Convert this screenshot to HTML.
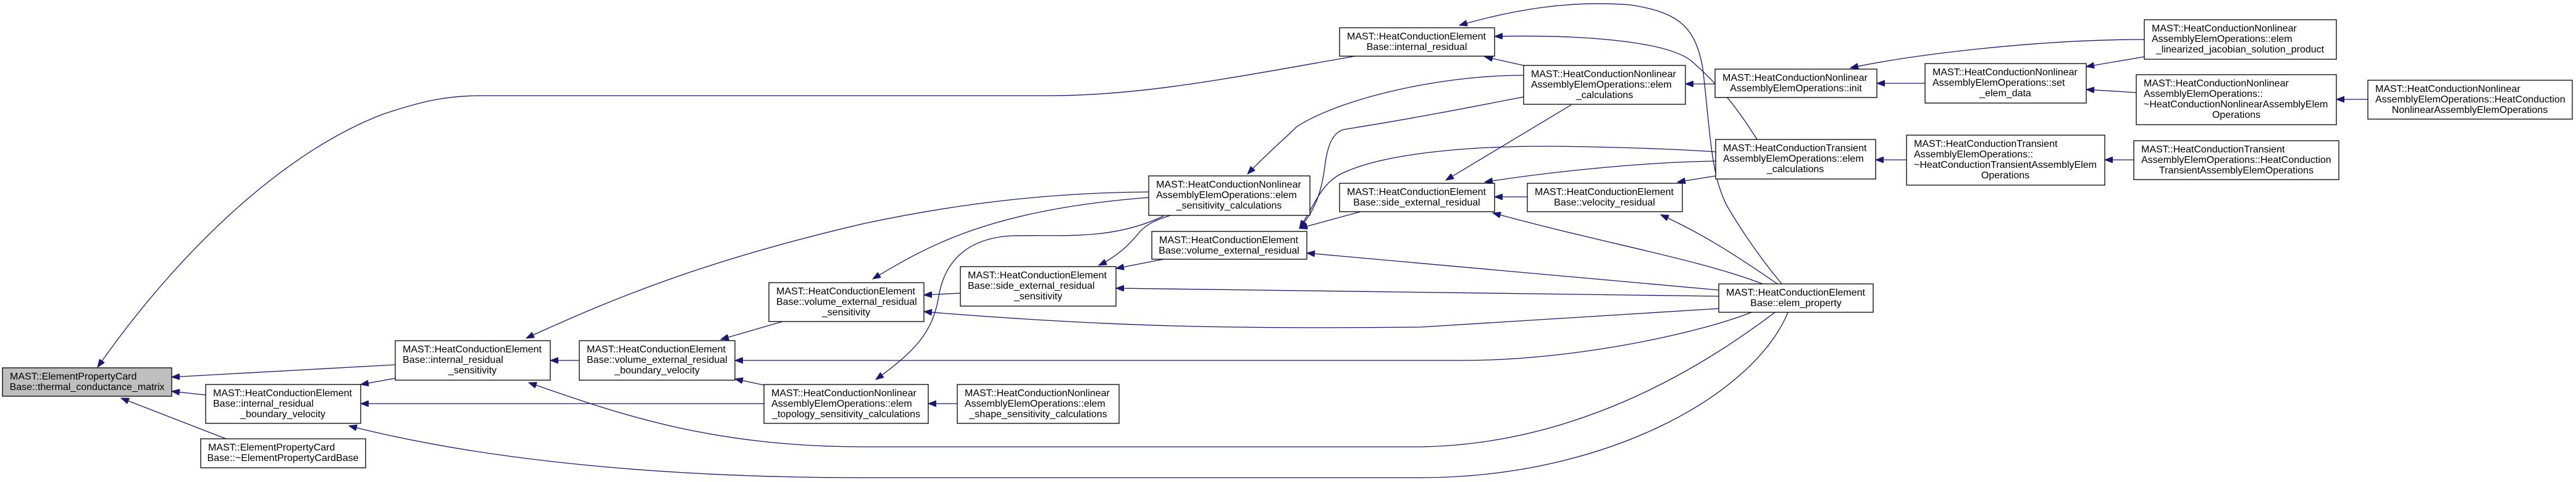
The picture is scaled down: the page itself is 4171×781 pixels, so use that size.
<!DOCTYPE html>
<html><head><meta charset="utf-8"><style>
html,body{margin:0;padding:0;background:#fff;}
svg{display:block;}
text{font-family:"Liberation Sans",Arial,sans-serif;font-size:16px;fill:#000;}
rect{fill:#fff;stroke:#000;stroke-width:1.3;}
path.e{fill:none;stroke:#191970;stroke-width:1.3;marker-start:url(#ah);}
</style></head><body>
<svg width="4171" height="781" viewBox="0 0 4171 781" xmlns="http://www.w3.org/2000/svg">
<defs><marker id="ah" markerUnits="userSpaceOnUse" markerWidth="14" markerHeight="10" refX="13" refY="5" orient="auto-start-reverse"><path d="M0,0 L13,5 L0,10 z" fill="#191970" stroke="#191970"/></marker></defs>

<path class="e" d="M158,595 C280,420 450,250 620,185 C680,165 720,155 780,155 L1700,155 C1850,155 2000,125 2194,91"/>
<path class="e" d="M278,611 L640,591"/>
<path class="e" d="M278,634 L333,640"/>
<path class="e" d="M196,645 C260,670 312,690 366,711"/>
<path class="e" d="M584,623 L640,613"/>
<path class="e" d="M584,654 L1237,654"/>
<path class="e" d="M565,690 C800,750 1100,774 1400,774 L2300,774 C2600,774 2840,640 2895,506"/>
<path class="e" d="M891,584 L938,584"/>
<path class="e" d="M852,548 C1000,480 1150,420 1400,362 C1550,330 1700,312 1860,311"/>
<path class="e" d="M856,620 C1000,670 1150,724 1400,724 L2300,724 C2550,720 2750,600 2874,506"/>
<path class="e" d="M1167,550 L1267,521"/>
<path class="e" d="M1190,614 L1237,624"/>
<path class="e" d="M1190,584 L2368,584 C2550,584 2750,540 2836,506"/>
<path class="e" d="M1413,452 C1500,400 1600,340 1860,320"/>
<path class="e" d="M1496,478 L1555,475"/>
<path class="e" d="M1496,505 C1800,530 2000,533 2300,530 L2783,500"/>
<path class="e" d="M1418,615 C1480,570 1510,540 1520,480 C1530,420 1570,385 1640,382 C1720,380 1800,390 1884,350"/>
<path class="e" d="M1503,654 L1550,654"/>
<path class="e" d="M1779,430 C1810,415 1830,395 1846,375 C1860,360 1880,354 1895,349"/>
<path class="e" d="M1807,435 L1884,420"/>
<path class="e" d="M1807,467 L2783,480"/>
<path class="e" d="M2104,370 C2130,340 2140,310 2145,270 C2150,230 2160,215 2175,210 C2300,190 2400,170 2467,157"/>
<path class="e" d="M2104,370 C2130,330 2140,295 2175,280 C2250,245 2400,237 2500,237 C2650,238 2750,244 2778,246"/>
<path class="e" d="M2104,370 L2203,343"/>
<path class="e" d="M2116,410 L2783,470"/>
<path class="e" d="M2020,282 C2050,250 2080,225 2100,205 C2170,160 2330,122 2467,122"/>
<path class="e" d="M2404,92 L2467,106"/>
<path class="e" d="M2420,59 C2550,56 2700,65 2740,100 C2780,135 2810,170 2845,226"/>
<path class="e" d="M2363,41 C2450,16 2540,0 2640,8 C2720,20 2745,45 2757,110 C2770,220 2770,290 2800,340 C2830,390 2860,430 2885,460"/>
<path class="e" d="M2341,292 L2544,170"/>
<path class="e" d="M2404,295 C2500,280 2650,263 2778,261"/>
<path class="e" d="M2420,319 L2473,319"/>
<path class="e" d="M2417,345 C2600,395 2750,420 2854,460"/>
<path class="e" d="M2716,295 L2778,285"/>
<path class="e" d="M2689,348 C2760,380 2820,420 2878,460"/>
<path class="e" d="M2729,136 L2777,136"/>
<path class="e" d="M2996,110 C3100,88 3300,64 3472,64"/>
<path class="e" d="M3039,135 L3117,135"/>
<path class="e" d="M3378,108 L3472,92"/>
<path class="e" d="M3378,145 L3459,150"/>
<path class="e" d="M3037,259 L3087,259"/>
<path class="e" d="M3408,259 L3455,259"/>
<path class="e" d="M3783,161 L3834,161"/>

<rect x="4" y="596" width="274" height="46" style="fill:#bfbfbf"/>
<text x="16" y="615">MAST::ElementPropertyCard</text><text x="141" y="632" text-anchor="middle">Base::thermal_conductance_matrix</text>

<rect x="333" y="623" width="251" height="63"/>
<text x="345" y="642">MAST::HeatConductionElement</text><text x="345" y="659">Base::internal_residual</text><text x="458" y="676" text-anchor="middle">_boundary_velocity</text>

<rect x="325" y="711" width="267" height="47"/>
<text x="337" y="730">MAST::ElementPropertyCard</text><text x="458" y="747" text-anchor="middle">Base::~ElementPropertyCardBase</text>

<rect x="640" y="552" width="251" height="64"/>
<text x="652" y="571">MAST::HeatConductionElement</text><text x="652" y="588">Base::internal_residual</text><text x="765" y="605" text-anchor="middle">_sensitivity</text>

<rect x="938" y="552" width="252" height="64"/>
<text x="950" y="571">MAST::HeatConductionElement</text><text x="950" y="588">Base::volume_external_residual</text><text x="1064" y="605" text-anchor="middle">_boundary_velocity</text>

<rect x="1245" y="458" width="251" height="63"/>
<text x="1257" y="477">MAST::HeatConductionElement</text><text x="1257" y="494">Base::volume_external_residual</text><text x="1370" y="511" text-anchor="middle">_sensitivity</text>

<rect x="1237" y="623" width="266" height="63"/>
<text x="1249" y="642">MAST::HeatConductionNonlinear</text><text x="1249" y="659">AssemblyElemOperations::elem</text><text x="1370" y="676" text-anchor="middle">_topology_sensitivity_calculations</text>

<rect x="1860" y="285" width="261" height="64"/>
<text x="1872" y="304">MAST::HeatConductionNonlinear</text><text x="1872" y="321">AssemblyElemOperations::elem</text><text x="1990" y="338" text-anchor="middle">_sensitivity_calculations</text>

<rect x="1865" y="375" width="251" height="45"/>
<text x="1877" y="394">MAST::HeatConductionElement</text><text x="1990" y="411" text-anchor="middle">Base::volume_external_residual</text>

<rect x="1555" y="432" width="252" height="64"/>
<text x="1567" y="451">MAST::HeatConductionElement</text><text x="1567" y="468">Base::side_external_residual</text><text x="1681" y="485" text-anchor="middle">_sensitivity</text>

<rect x="1550" y="623" width="262" height="63"/>
<text x="1562" y="642">MAST::HeatConductionNonlinear</text><text x="1562" y="659">AssemblyElemOperations::elem</text><text x="1681" y="676" text-anchor="middle">_shape_sensitivity_calculations</text>

<rect x="2169" y="45" width="251" height="46"/>
<text x="2181" y="64">MAST::HeatConductionElement</text><text x="2294" y="81" text-anchor="middle">Base::internal_residual</text>

<rect x="2467" y="106" width="262" height="63"/>
<text x="2479" y="125">MAST::HeatConductionNonlinear</text><text x="2479" y="142">AssemblyElemOperations::elem</text><text x="2598" y="159" text-anchor="middle">_calculations</text>

<rect x="2169" y="297" width="251" height="46"/>
<text x="2181" y="316">MAST::HeatConductionElement</text><text x="2294" y="333" text-anchor="middle">Base::side_external_residual</text>

<rect x="2473" y="297" width="251" height="46"/>
<text x="2485" y="316">MAST::HeatConductionElement</text><text x="2598" y="333" text-anchor="middle">Base::velocity_residual</text>

<rect x="2777" y="112" width="262" height="46"/>
<text x="2789" y="131">MAST::HeatConductionNonlinear</text><text x="2908" y="148" text-anchor="middle">AssemblyElemOperations::init</text>

<rect x="2778" y="226" width="259" height="64"/>
<text x="2790" y="245">MAST::HeatConductionTransient</text><text x="2790" y="262">AssemblyElemOperations::elem</text><text x="2907" y="279" text-anchor="middle">_calculations</text>

<rect x="2783" y="460" width="250" height="46"/>
<text x="2795" y="479">MAST::HeatConductionElement</text><text x="2908" y="496" text-anchor="middle">Base::elem_property</text>

<rect x="3117" y="103" width="261" height="64"/>
<text x="3129" y="122">MAST::HeatConductionNonlinear</text><text x="3129" y="139">AssemblyElemOperations::set</text><text x="3247" y="156" text-anchor="middle">_elem_data</text>

<rect x="3087" y="219" width="321" height="81"/>
<text x="3099" y="238">MAST::HeatConductionTransient</text><text x="3099" y="255">AssemblyElemOperations::</text><text x="3099" y="272">~HeatConductionTransientAssemblyElem</text><text x="3247" y="289" text-anchor="middle">Operations</text>

<rect x="3472" y="32" width="311" height="64"/>
<text x="3484" y="51">MAST::HeatConductionNonlinear</text><text x="3484" y="68">AssemblyElemOperations::elem</text><text x="3627" y="85" text-anchor="middle">_linearized_jacobian_solution_product</text>

<rect x="3459" y="121" width="324" height="81"/>
<text x="3471" y="140">MAST::HeatConductionNonlinear</text><text x="3471" y="157">AssemblyElemOperations::</text><text x="3471" y="174">~HeatConductionNonlinearAssemblyElem</text><text x="3621" y="191" text-anchor="middle">Operations</text>

<rect x="3455" y="228" width="332" height="63"/>
<text x="3467" y="247">MAST::HeatConductionTransient</text><text x="3467" y="264">AssemblyElemOperations::HeatConduction</text><text x="3621" y="281" text-anchor="middle">TransientAssemblyElemOperations</text>

<rect x="3834" y="130" width="331" height="63"/>
<text x="3846" y="149">MAST::HeatConductionNonlinear</text><text x="3846" y="166">AssemblyElemOperations::HeatConduction</text><text x="3999" y="183" text-anchor="middle">NonlinearAssemblyElemOperations</text>
</svg>
</body></html>
